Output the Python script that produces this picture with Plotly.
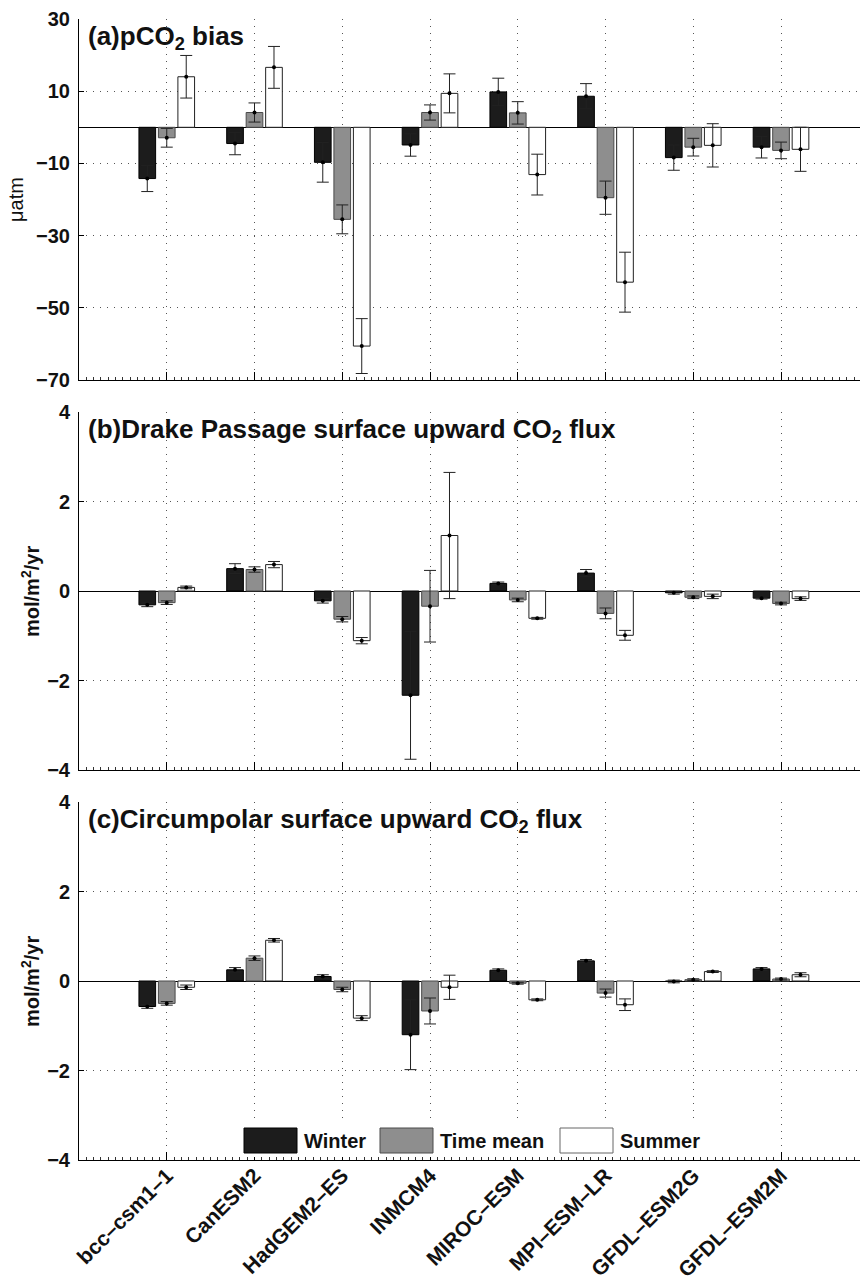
import plotly.graph_objects as go

models = ["bcc–csm1–1", "CanESM2", "HadGEM2–ES", "INMCM4", "MIROC–ESM",
          "MPI–ESM–LR", "GFDL–ESM2G", "GFDL–ESM2M"]
series_names = ["Winter", "Time mean", "Summer"]

# (a) pCO2 bias (uatm)
winter_a = [-14.2, -4.5, -9.7, -4.9, 9.8, 8.6, -8.4, -5.5]
winter_a_err = [3.6, 3.1, 5.5, 3.1, 3.8, 3.5, 3.5, 3.0]
mean_a = [-2.9, 4.1, -25.5, 4.1, 4.0, -19.5, -5.5, -6.4]
mean_a_err = [2.6, 2.65, 4.0, 2.1, 3.1, 4.6, 2.45, 2.3]
summer_a = [14.0, 16.6, -60.6, 9.4, -13.1, -42.9, -5.0, -6.1]
summer_a_err = [5.9, 5.8, 7.6, 5.4, 5.65, 8.3, 6.0, 6.1]

# (b) Drake Passage surface upward CO2 flux (mol/m2/yr)
winter_b = [-0.31, 0.50, -0.22, -2.33, 0.17, 0.40, -0.04, -0.16]
winter_b_err = [0.04, 0.11, 0.05, 1.43, 0.03, 0.08, 0.03, 0.02]
mean_b = [-0.26, 0.48, -0.63, -0.34, -0.20, -0.50, -0.14, -0.28]
mean_b_err = [0.04, 0.06, 0.06, 0.80, 0.04, 0.12, 0.03, 0.03]
summer_b = [0.08, 0.59, -1.11, 1.24, -0.61, -0.99, -0.12, -0.17]
summer_b_err = [0.03, 0.07, 0.07, 1.41, 0.02, 0.11, 0.05, 0.04]

# (c) Circumpolar surface upward CO2 flux (mol/m2/yr)
winter_c = [-0.57, 0.25, 0.10, -1.20, 0.24, 0.45, -0.01, 0.27]
winter_c_err = [0.04, 0.05, 0.04, 0.78, 0.03, 0.03, 0.03, 0.03]
mean_c = [-0.50, 0.51, -0.19, -0.67, -0.05, -0.27, 0.03, 0.045]
mean_c_err = [0.04, 0.05, 0.05, 0.29, 0.02, 0.09, 0.02, 0.02]
summer_c = [-0.14, 0.91, -0.83, -0.14, -0.42, -0.53, 0.21, 0.14]
summer_c_err = [0.05, 0.04, 0.055, 0.27, 0.02, 0.13, 0.02, 0.045]

yticks_a = [-70, -50, -30, -10, 10, 30]
yticks_flux = [-4, -2, 0, 2, 4]

W, H = 860, 1286
FONT = "Liberation Sans, Arial, Helvetica, sans-serif"

fills = ["#1c1c1c", "#8e8e8e", "#ffffff"]
edges = ["#000000", "#4a4a4a", "#222222"]
offsets = [-0.222, 0.0, 0.222]
bar_w = 0.19

panels = [
    ([winter_a, mean_a, summer_a], [winter_a_err, mean_a_err, summer_a_err]),
    ([winter_b, mean_b, summer_b], [winter_b_err, mean_b_err, summer_b_err]),
    ([winter_c, mean_c, summer_c], [winter_c_err, mean_c_err, summer_c_err]),
]
# pixel extents (top, bottom) of each panel
pix = [(19, 380), (412, 770), (802, 1160)]

fig = go.Figure()
for p, (vals, errs) in enumerate(panels):
    xa = "x" if p == 0 else f"x{p+1}"
    ya = "y" if p == 0 else f"y{p+1}"
    for s in range(3):
        xs = [i + 1 + offsets[s] for i in range(len(models))]
        fig.add_trace(go.Bar(
            x=xs, y=vals[s], width=bar_w, name=series_names[s],
            marker=dict(color=fills[s], line=dict(color=edges[s], width=1)),
            error_y=dict(type="data", array=errs[s], visible=True,
                         color="#222222", thickness=1, width=6),
            xaxis=xa, yaxis=ya, showlegend=False,
        ))
        fig.add_trace(go.Scatter(
            x=xs, y=vals[s], mode="markers",
            marker=dict(color="#000000", size=4),
            xaxis=xa, yaxis=ya, showlegend=False, hoverinfo="skip",
        ))

grid = dict(showgrid=True, gridcolor="#555555", gridwidth=1, griddash="1px,6px")
xdom = [79 / W, 1.0]
layout = dict(
    width=W, height=H, margin=dict(l=0, r=0, t=0, b=0, pad=0),
    paper_bgcolor="white", plot_bgcolor="white", barmode="overlay",
    font=dict(family=FONT, color="#111111"), showlegend=False,
)
for p in range(3):
    xk = "xaxis" if p == 0 else f"xaxis{p+1}"
    yk = "yaxis" if p == 0 else f"yaxis{p+1}"
    ya = "y" if p == 0 else f"y{p+1}"
    xa = "x" if p == 0 else f"x{p+1}"
    top, bot = pix[p]
    layout[xk] = dict(
        domain=xdom, anchor=ya, range=[0, 8.9], tickmode="array",
        tickvals=list(range(1, len(models) + 1)), ticktext=models,
        showticklabels=(p == 2), tickangle=-45,
        tickfont=dict(family=FONT, size=21, weight="bold", color="#111111"),
        ticks="inside", ticklen=8, tickcolor="#000000", ticklabelstandoff=-6,
        showline=True, linecolor="#000000", linewidth=1, zeroline=False,
        minor=dict(ticks="inside", ticklen=3, dtick=1 / 12, tick0=0,
                   tickcolor="#333333", showgrid=False),
        automargin=False, **grid,
    )
    if p == 0:
        yrange, yt = [-70, 30], yticks_a
    else:
        yrange, yt = [-4, 4], yticks_flux
    layout[yk] = dict(
        domain=[1 - bot / H, 1 - top / H], anchor=xa, range=yrange,
        tickmode="array", tickvals=yt,
        tickfont=dict(family=FONT, size=20, weight="bold", color="#111111"),
        ticks="inside", ticklen=5, tickcolor="#000000", ticklabelstandoff=4,
        showline=True, linecolor="#000000", linewidth=1,
        zeroline=True, zerolinecolor="#000000", zerolinewidth=1.3,
        automargin=False, **grid,
    )
fig.update_layout(**layout)

titles = ["(a)pCO<sub>2</sub> bias",
          "(b)Drake Passage surface upward CO<sub>2</sub> flux",
          "(c)Circumpolar surface upward CO<sub>2</sub> flux"]
for p in range(3):
    top, bot = pix[p]
    fig.add_annotation(x=86 / W, y=1 - top / H, xref="paper", yref="paper",
                       xanchor="left", yanchor="top", text=titles[p], showarrow=False,
                       font=dict(family=FONT, size=26, weight="bold", color="#111111"))

fig.add_annotation(x=16 / W, y=1 - 200 / H, xref="paper", yref="paper",
                   text="μatm", textangle=-90, showarrow=False,
                   xanchor="center", yanchor="middle",
                   font=dict(family=FONT, size=20, color="#111111"))
for yc in (592, 982):
    fig.add_annotation(x=30 / W, y=1 - yc / H, xref="paper", yref="paper",
                       text="mol/m<sup>2</sup>/yr", textangle=-90, showarrow=False,
                       xanchor="center", yanchor="middle",
                       font=dict(family=FONT, size=20, weight="bold", color="#111111"))

# legend drawn inside panel (c)
fig.add_shape(type="rect", xref="paper", yref="paper", x0=240 / W, x1=708 / W,
              y0=1 - 1157 / H, y1=1 - 1124 / H, fillcolor="white",
              line=dict(width=0), layer="above")
leg_boxes = [(244, 297, 302), (380, 433, 438), (560, 613, 618)]
for s, (bx0, bx1, tx) in enumerate(leg_boxes):
    fig.add_shape(type="rect", xref="paper", yref="paper", x0=bx0 / W, x1=bx1 / W,
                  y0=1 - 1153 / H, y1=1 - 1128 / H, fillcolor=fills[s],
                  line=dict(color=edges[s] if s < 2 else "#666666", width=1),
                  layer="above")
    fig.add_annotation(x=tx / W, y=1 - 1141 / H, xref="paper", yref="paper",
                       xanchor="left", yanchor="middle", text=series_names[s],
                       showarrow=False,
                       font=dict(family=FONT, size=20, weight="bold", color="#111111"))

fig.write_html("out.html")
